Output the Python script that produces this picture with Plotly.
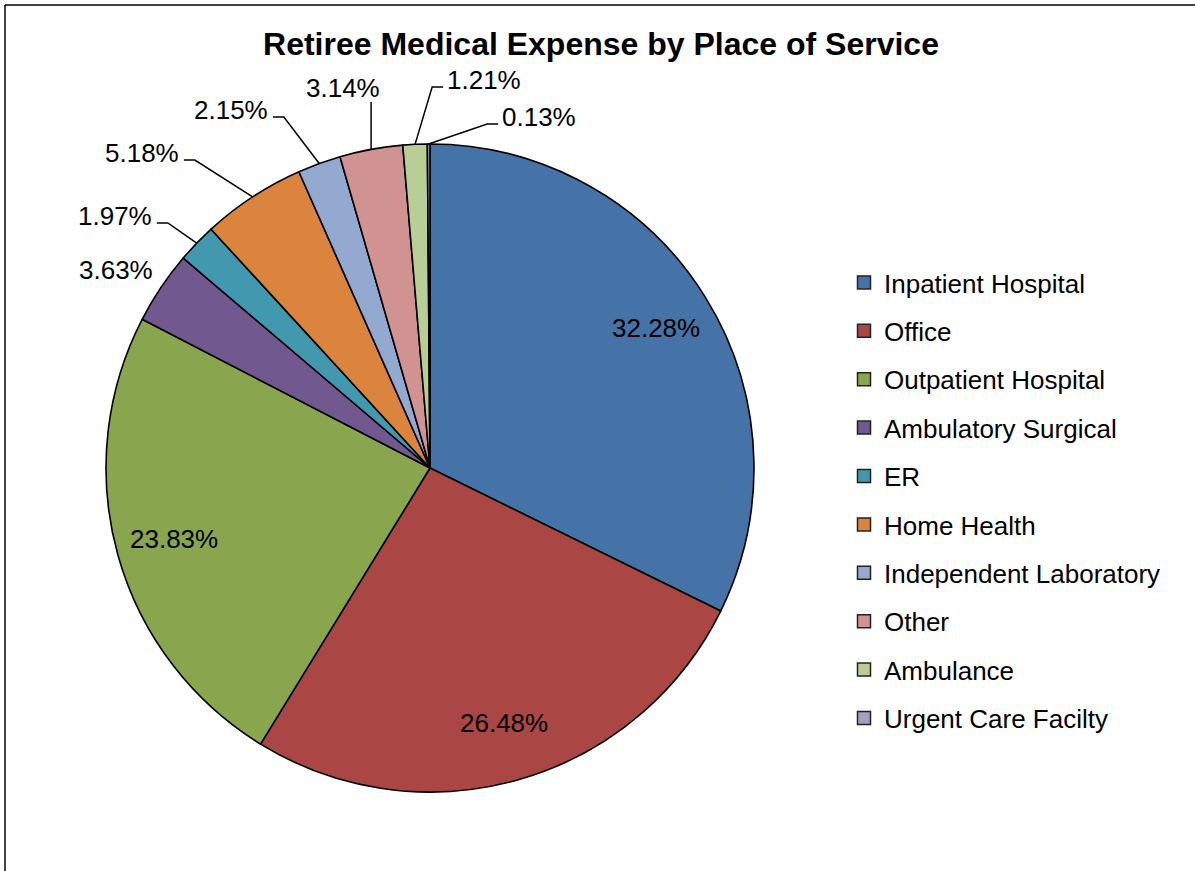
import math
import plotly.graph_objects as go

# ---------------- data ----------------
categories = ["Inpatient Hospital", "Office", "Outpatient Hospital", "Ambulatory Surgical",
              "ER", "Home Health", "Independent Laboratory", "Other", "Ambulance",
              "Urgent Care Facilty"]
values = [32.28, 26.48, 23.83, 3.63, 1.97, 5.18, 2.15, 3.14, 1.21, 0.13]
colors = ["#4572A7", "#AA4643", "#89A54E", "#71588F", "#4198AF",
          "#DB843D", "#93A9CF", "#D19392", "#B9CD96", "#A99BBD"]
title_text = "Retiree Medical Expense by Place of Service"

# ---------------- layout constants (pixels) ----------------
W, H = 1195, 871
CX, CY, R = 430, 468, 324
FONT = "Liberation Sans, Arial, sans-serif"
LBL_SIZE = 26
INSIDE_FRAC = 0.82
# outside label placements: category -> (text centre x, text centre y, leader style)
outside = {
    "Ambulatory Surgical": (116, 270, None),
    "ER": (115, 216, "right"),
    "Home Health": (142, 153, "right"),
    "Independent Laboratory": (231, 110, "right"),
    "Other": (343, 88, "below"),
    "Ambulance": (484, 80, "left"),
    "Urgent Care Facilty": (539, 117, "left"),
}


def px(x):
    return x / W


def py(y):
    return 1 - y / H


def text_w(s):
    w = 0
    for ch in s:
        if ch.isdigit():
            w += 0.556
        elif ch == ".":
            w += 0.278
        elif ch == "%":
            w += 0.889
    return w * LBL_SIZE


fig = go.Figure()
fig.add_trace(go.Pie(
    labels=categories, values=values, sort=False, direction="clockwise", rotation=0,
    marker=dict(colors=colors, line=dict(color="black", width=1.6)),
    textinfo="none", hoverinfo="label+percent", showlegend=False,
    domain=dict(x=[px(CX - R), px(CX + R)], y=[py(CY + R), py(CY - R)]),
))

# legend via dummy traces (one group each so spacing can be set)
for i, (c, col) in enumerate(zip(categories, colors)):
    fig.add_trace(go.Scatter(
        x=[None], y=[None], mode="markers", name=c, legendgroup=c,
        marker=dict(symbol="square", size=13, color=col, line=dict(color="#222", width=1.5)),
        showlegend=True, hoverinfo="skip",
    ))

total = sum(values)
annotations = []
shapes = []
cum = 0.0
for c, v in zip(categories, values):
    mid = (cum + v / 2) / total * 2 * math.pi
    cum += v
    label = f"{v:.2f}%"
    if c in outside:
        tx, ty, style = outside[c]
        annotations.append(dict(x=px(tx), y=py(ty), xref="paper", yref="paper", text=label,
                                showarrow=False, xanchor="center", yanchor="middle",
                                font=dict(family=FONT, size=LBL_SIZE, color="black")))
        ex = CX + R * math.sin(mid)
        ey = CY - R * math.cos(mid)
        tw = text_w(label)
        pts = None
        if style == "right":
            x0 = tx + tw / 2 + 5
            ly = ty + 7
            pts = [(x0, ly), (x0 + 11, ly), (ex, ey)]
        elif style == "left":
            x0 = tx - tw / 2 - 4
            ly = ty + 7
            pts = [(x0, ly), (x0 - 11, ly), (ex, ey)]
        elif style == "below":
            pts = [(ex, ty + 14), (ex, ey)]
        if pts:
            path = "M " + " L ".join(f"{px(a):.5f},{py(b):.5f}" for a, b in pts)
            shapes.append(dict(type="path", path=path, xref="paper", yref="paper",
                               line=dict(color="black", width=1.5)))
    else:
        rr = INSIDE_FRAC * R
        lx = CX + rr * math.sin(mid)
        ly = CY - rr * math.cos(mid)
        annotations.append(dict(x=px(lx), y=py(ly), xref="paper", yref="paper", text=label,
                                showarrow=False, xanchor="center", yanchor="middle",
                                font=dict(family=FONT, size=LBL_SIZE, color="black")))

# chart frame (left and top edges visible)
shapes.append(dict(type="line", xref="paper", yref="paper", x0=px(5), y0=py(5), x1=px(5), y1=py(H + 5),
                   line=dict(color="black", width=1.5)))
shapes.append(dict(type="line", xref="paper", yref="paper", x0=px(5), y0=py(5), x1=px(W + 5), y1=py(5),
                   line=dict(color="black", width=1.5)))

fig.update_layout(
    width=W, height=H, autosize=False,
    margin=dict(l=0, r=0, t=0, b=0),
    paper_bgcolor="white", plot_bgcolor="white",
    title=dict(text=f"<b>{title_text}</b>", x=px(601), y=py(44), xanchor="center", yanchor="middle",
               font=dict(family=FONT, size=32, color="black")),
    xaxis=dict(visible=False), yaxis=dict(visible=False),
    legend=dict(x=px(844), y=py(259), xanchor="left", yanchor="top", tracegroupgap=11.6,
                font=dict(family=FONT, size=26, color="black"), bgcolor="rgba(0,0,0,0)",
                itemclick=False, itemdoubleclick=False),
    annotations=annotations, shapes=shapes,
)

fig.write_html("out.html", config={"displayModeBar": False},
               post_script="document.body.style.margin='0';document.body.style.overflow='hidden';")
